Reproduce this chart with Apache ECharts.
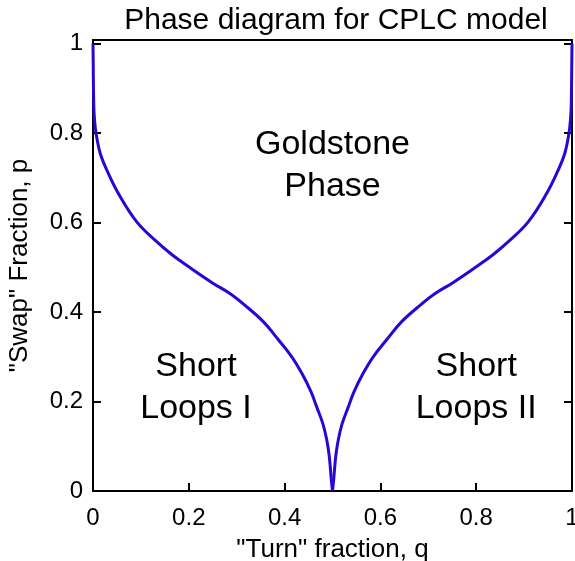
<!DOCTYPE html>
<html>
<head>
<meta charset="utf-8">
<script src="https://cdn.jsdelivr.net/npm/echarts@6/dist/echarts.min.js"></script>
<style>html,body{margin:0;padding:0;background:#fff}#c{width:575px;height:561px}</style>
</head>
<body>
<div id="c"></div>
<script>
// Left branch of the phase boundary (q, p)
const leftQ = [0.000, 0.0005, 0.001, 0.002, 0.004, 0.007, 0.015, 0.029, 0.053, 0.091, 0.130, 0.165, 0.200, 0.251, 0.285, 0.315, 0.356, 0.387, 0.415, 0.436, 0.455, 0.467, 0.480, 0.488, 0.493, 0.496, 0.498, 0.500];
const leftP = [1.000, 0.950, 0.900, 0.850, 0.820, 0.795, 0.755, 0.717, 0.665, 0.602, 0.560, 0.528, 0.501, 0.464, 0.442, 0.417, 0.378, 0.338, 0.300, 0.263, 0.222, 0.188, 0.150, 0.114, 0.080, 0.045, 0.020, 0.000];
// Right branch of the phase boundary (q, p)
const rightQ = [1.000, 0.9995, 0.999, 0.998, 0.996, 0.993, 0.985, 0.971, 0.947, 0.909, 0.870, 0.835, 0.800, 0.749, 0.715, 0.685, 0.644, 0.613, 0.585, 0.564, 0.545, 0.533, 0.520, 0.512, 0.507, 0.504, 0.502, 0.500];
const rightP = [1.000, 0.950, 0.900, 0.850, 0.820, 0.795, 0.755, 0.717, 0.665, 0.602, 0.560, 0.528, 0.501, 0.464, 0.442, 0.417, 0.378, 0.338, 0.300, 0.263, 0.222, 0.188, 0.150, 0.114, 0.080, 0.045, 0.020, 0.000];
// Region labels
const regionText = ['Goldstone\nPhase', 'Short\nLoops I', 'Short\nLoops II'];
const regionQ = [0.50, 0.215, 0.80];
const regionP = [0.728, 0.230, 0.230];
const xTicks = [0, 0.2, 0.4, 0.6, 0.8, 1];
const yTicks = [0, 0.2, 0.4, 0.6, 0.8, 1];

const FONT = '"Liberation Sans", Arial, sans-serif';
const lineColor = '#2a06d6';

function pairs(xs, ys) { return xs.map((x, i) => [x, ys[i]]); }

const chart = echarts.init(document.getElementById('c'), null, {renderer: 'canvas'});
chart.setOption({
  animation: false,
  backgroundColor: '#fff',
  title: {
    text: 'Phase diagram for CPLC model',
    left: 331, top: 1, textAlign: 'center',
    textStyle: {fontFamily: FONT, fontSize: 30, fontWeight: 'normal', color: '#000'}
  },
  grid: {left: 93, right: 3, top: 40, bottom: 70, containLabel: false, outerBoundsMode: 'none'},
  xAxis: [{
    type: 'value', min: 0, max: 1, interval: 0.2,
    name: '"Turn" fraction, q', nameLocation: 'middle', nameGap: 46,
    nameTextStyle: {fontFamily: FONT, fontSize: 26, color: '#000'},
    axisLine: {onZero: false, lineStyle: {color: '#000', width: 2}},
    axisTick: {inside: true, length: 8, customValues: xTicks, lineStyle: {color: '#000', width: 2}},
    axisLabel: {fontFamily: FONT, fontSize: 24, color: '#000', margin: 15, customValues: xTicks},
    splitLine: {show: false}
  }, {
    type: 'value', min: 0, max: 1, position: 'top',
    axisLine: {show: true, onZero: false, lineStyle: {color: '#000', width: 2}},
    axisTick: {show: false}, axisLabel: {show: false}, splitLine: {show: false}
  }],
  yAxis: [{
    type: 'value', min: 0, max: 1.008, interval: 0.2,
    name: '"Swap" Fraction, p', nameLocation: 'middle', nameGap: 60, nameRotate: 90,
    nameTextStyle: {fontFamily: FONT, fontSize: 26, color: '#000'},
    axisLine: {show: true, onZero: false, lineStyle: {color: '#000', width: 2}},
    axisTick: {inside: true, length: 8, customValues: yTicks, lineStyle: {color: '#000', width: 2}},
    axisLabel: {fontFamily: FONT, fontSize: 24, color: '#000', margin: 10, customValues: yTicks},
    splitLine: {show: false}
  }, {
    type: 'value', min: 0, max: 1.008, interval: 0.2, position: 'right',
    axisLine: {show: true, onZero: false, lineStyle: {color: '#000', width: 2}},
    axisTick: {inside: true, length: 8, customValues: yTicks, lineStyle: {color: '#000', width: 2}},
    axisLabel: {show: false}, splitLine: {show: false}
  }],
  series: [{
    type: 'line', data: pairs(leftQ, leftP), smooth: 0.4, showSymbol: false,
    lineStyle: {color: lineColor, width: 3}, z: 1
  }, {
    type: 'line', data: pairs(rightQ, rightP), smooth: 0.4, showSymbol: false,
    lineStyle: {color: lineColor, width: 3}, z: 1
  }, {
    type: 'scatter', symbolSize: 0, itemStyle: {opacity: 1},
    data: regionText.map((t, i) => ({value: [regionQ[i], regionP[i]], name: t})),
    label: {show: true, position: 'inside', formatter: p => p.name,
      fontFamily: FONT, fontSize: 34, color: '#000', lineHeight: 42, align: 'center'},
    silent: true
  }]
});
</script>
</body>
</html>
